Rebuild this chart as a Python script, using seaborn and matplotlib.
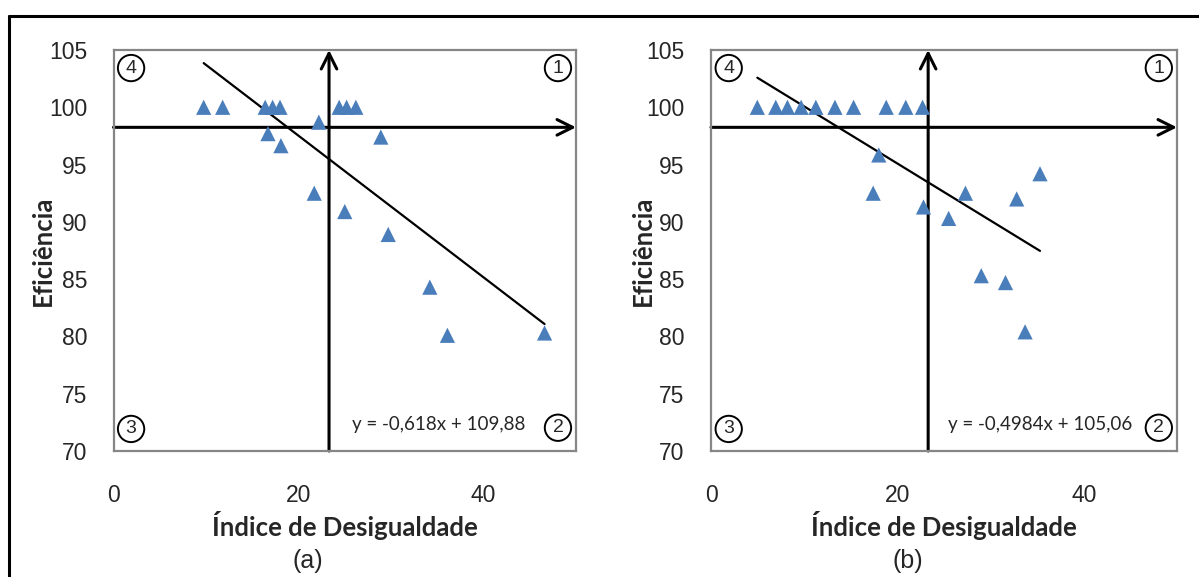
import matplotlib
matplotlib.use("Agg")
import matplotlib.pyplot as plt
import seaborn as sns
import pandas as pd
import numpy as np

# ---- data ----
xa = [9.75, 11.8, 16.4, 17.2, 18.0, 24.4, 25.2, 26.2, 22.2, 16.7, 18.1, 28.9,
      21.7, 25.0, 29.7, 34.2, 36.1, 46.6]
ya = [100, 100, 100, 100, 100, 100, 100, 100, 98.7, 97.7, 96.65, 97.4,
      92.5, 90.9, 88.9, 84.3, 80.1, 80.3]
xb = [4.97, 6.95, 8.2, 9.67, 11.25, 13.3, 15.3, 18.8, 20.9, 22.7, 18.0, 17.4,
      27.3, 22.8, 25.5, 32.8, 35.3, 29.0, 31.6, 33.7]
yb = [100, 100, 100, 100, 100, 100, 100, 100, 100, 100, 95.84, 92.5,
      92.5, 91.3, 90.3, 92.0, 94.2, 85.3, 84.7, 80.4]
slopes = [-0.618, -0.4984]
intercepts = [109.88, 105.06]
equations = ["y = -0,618x + 109,88", "y = -0,4984x + 105,06"]
panel_labels = ["(a)", "(b)"]
quadrant_labels = ["1", "2", "3", "4"]
ref_x = [23.3, 23.3]
ref_y = [98.25, 98.25]
xticks = [0, 20, 40]
yticks = [70, 75, 80, 85, 90, 95, 100, 105]
xlabel = "Índice de Desigualdade"
ylabel = "Eficiência"

sns.set_theme(style="white")
plt.rcParams['font.family'] = ['Liberation Sans', 'DejaVu Sans']

fig = plt.figure(figsize=(11.99, 5.77), dpi=100)
W, H = 1199, 577
rects = [[113.5 / W, (577 - 451) / H, 462.5 / W, 401 / H],
         [711 / W, (577 - 451) / H, 466 / W, 401 / H]]
label_fonts = ['Lato', 'DejaVu Sans']
blue = "#4A7EBB"

datasets = [(xa, ya), (xb, yb)]
ylab_x = [-0.127, -0.121]
eq_x = [0.516, 0.509]
panel_x = [308 / W, 908 / W]

for i, ((xs, ys), r) in enumerate(zip(datasets, rects)):
    ax = fig.add_axes(r)
    df = pd.DataFrame({"x": xs, "y": ys})
    sns.scatterplot(data=df, x="x", y="y", marker="^", s=120, color=blue,
                    edgecolor="none", ax=ax, zorder=4)
    # trend line from fit equation
    xl = np.array([min(xs), max(xs)])
    dfl = pd.DataFrame({"x": xl, "y": slopes[i] * xl + intercepts[i]})
    sns.lineplot(data=dfl, x="x", y="y", color="black", lw=1.6, ax=ax, zorder=3)
    ax.set_xlim(0, 50)
    ax.set_ylim(70, 105)
    ax.set_xticks(xticks)
    ax.set_yticks(yticks)
    ax.tick_params(axis='y', length=0, labelsize=16.5, pad=19)
    ax.tick_params(axis='x', length=0, labelsize=16.5, pad=24)
    for sp in ax.spines.values():
        sp.set_color("#868686")
        sp.set_linewidth(1.6)
    ax.set_xlabel(xlabel, fontsize=18.5, fontweight='bold', family=label_fonts)
    ax.set_ylabel(ylabel, fontsize=18.5, fontweight='bold', family=label_fonts)
    ax.xaxis.set_label_coords(0.5, -0.150)
    ax.yaxis.set_label_coords(ylab_x[i], 0.5)
    # quadrant arrows
    ax.annotate("", xy=(ref_x[i], 105), xytext=(ref_x[i], 70),
                arrowprops=dict(arrowstyle="->", lw=2.2, color="black",
                                mutation_scale=28, shrinkA=0, shrinkB=0),
                annotation_clip=False, zorder=2)
    ax.annotate("", xy=(50, ref_y[i]), xytext=(0, ref_y[i]),
                arrowprops=dict(arrowstyle="->", lw=2.2, color="black",
                                mutation_scale=28, shrinkA=0, shrinkB=0),
                annotation_clip=False, zorder=2)
    # quadrant labels
    qpos = {"1": (0.961, 0.955), "2": (0.961, 0.058), "3": (0.038, 0.055), "4": (0.038, 0.955)}
    for q in quadrant_labels:
        px, py = qpos[q]
        ax.text(px, py, q, transform=ax.transAxes, ha='center', va='center',
                fontsize=14,
                bbox=dict(boxstyle="circle,pad=0.24", fc="white", ec="black", lw=1.4),
                zorder=5)
    ax.text(eq_x[i], 0.065, equations[i], transform=ax.transAxes, ha='left',
            va='center', fontsize=13.5, family=label_fonts, zorder=5)
    fig.text(panel_x[i], 1 - 561 / H, panel_labels[i], ha='center', va='center',
             fontsize=18)

# outer frame (top and left edges visible)
fig.add_artist(plt.Line2D([8.5 / W, 1.0], [1 - 15.5 / H, 1 - 15.5 / H],
                          color="black", lw=2.2, transform=fig.transFigure))
fig.add_artist(plt.Line2D([8.5 / W, 8.5 / W], [0, 1 - 15.5 / H],
                          color="black", lw=2.2, transform=fig.transFigure))

fig.savefig("out.png", dpi=100)
